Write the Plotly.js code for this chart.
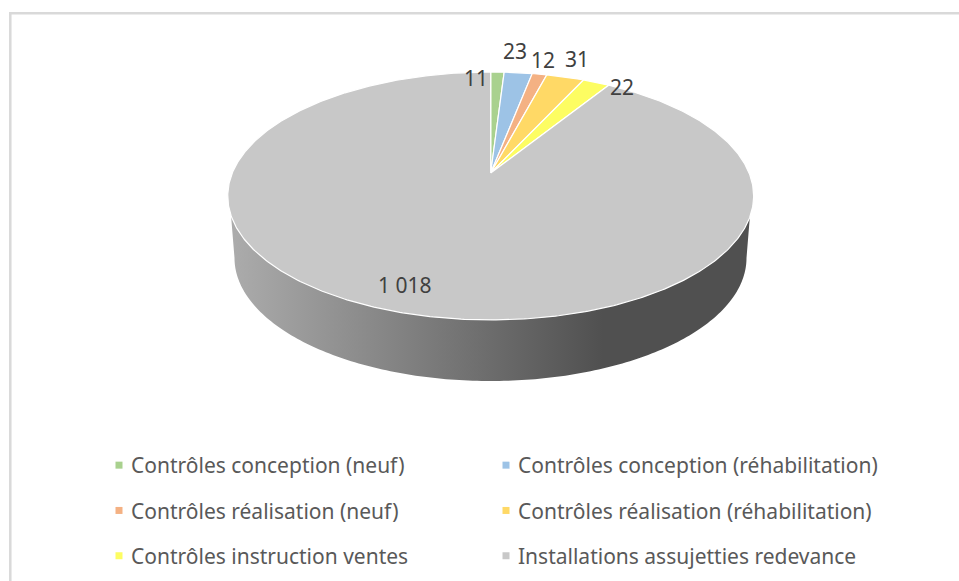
<!DOCTYPE html>
<html lang="fr">
<head>
<meta charset="utf-8">
<title>Répartition des contrôles et installations</title>
<script src="https://cdn.plot.ly/plotly-3.0.1.min.js"></script>
<style>html,body{margin:0;padding:0;background:#fff}#chart{width:959px;height:581px}</style>
</head>
<body>
<div id="chart"></div>
<script>
// --- data ---
const categories = [
  "Contrôles conception (neuf)",
  "Contrôles conception (réhabilitation)",
  "Contrôles réalisation (neuf)",
  "Contrôles réalisation (réhabilitation)",
  "Contrôles instruction ventes",
  "Installations assujetties redevance"
];
const values = [11, 23, 12, 31, 22, 1018];
const valueLabels = ["11", "23", "12", "31", "22", "1 018"];
const colors = ["#A9D18E", "#9DC3E6", "#F4B183", "#FFD966", "#FDFD62", "#C8C8C8"];

// --- geometry of the tilted, perspective disc (in axis units = screen pixels) ---
const apexX = 490.7, apexY = 173;
const depthK = 0.1855, scaleU = 258.4, scaleV = 119.7;
const wallDrop = {cy: 258, rx: 256, ry: 123, cx: 490.5, topY: 215, leftX: 231, rightX: 750};
const labelAt = [[476, 78], [515, 51], [543, 60], [577, 59], [622, 87], [405, 285]];

function project(angle) {            // angle clockwise from 12 o'clock
  const u = Math.sin(angle), v = Math.cos(angle), d = 1 + depthK * v;
  return [apexX + scaleU * u / d, apexY - scaleV * v / d];
}
const total = values.reduce((a, b) => a + b, 0);
let cum = 0;
const wedgeTraces = values.map((val, i) => {
  const a0 = cum / total * 2 * Math.PI;
  cum += val;
  const a1 = cum / total * 2 * Math.PI;
  const n = Math.max(4, Math.ceil((a1 - a0) / 0.01));
  const xs = [apexX], ys = [apexY];
  for (let k = 0; k <= n; k++) {
    const p = project(a0 + (a1 - a0) * k / n);
    xs.push(p[0]); ys.push(p[1]);
  }
  xs.push(apexX); ys.push(apexY);
  return {
    type: "scatter", mode: "lines", x: xs, y: ys, fill: "toself",
    fillcolor: colors[i], line: {color: "#ffffff", width: 1.2},
    name: categories[i], text: String(val), hoverinfo: "name+text", showlegend: false
  };
});

// side wall of the disc
const wallX = [wallDrop.leftX], wallY = [wallDrop.topY];
for (let k = 0; k <= 180; k++) {
  const t = Math.PI - k * Math.PI / 180;
  wallX.push(wallDrop.cx + wallDrop.rx * Math.cos(t));
  wallY.push(wallDrop.cy + wallDrop.ry * Math.sin(t));
}
wallX.push(wallDrop.rightX, wallDrop.leftX);
wallY.push(wallDrop.topY, wallDrop.topY);
const wallTrace = {
  type: "scatter", mode: "none", x: wallX, y: wallY, fill: "toself",
  fillgradient: {
    type: "horizontal", start: 234, stop: 747,
    colorscale: [[0, "#ababab"], [0.5, "#6c6c6c"], [0.72, "#505050"], [1, "#505050"]]
  },
  hoverinfo: "skip", showlegend: false
};

// legend entries: small squares, two columns of three rows
const legendTraces = categories.map((name, i) => ({
  type: "scatter", mode: "markers", x: [null], y: [null], name: name,
  marker: {symbol: "square", size: 7, color: colors[i]},
  legend: i % 2 === 0 ? "legend" : "legend2",
  legendgroup: "g" + i, hoverinfo: "skip"
}));

const legendStyle = {
  orientation: "v", xanchor: "left", yanchor: "top", tracegroupgap: 15,
  bgcolor: "rgba(0,0,0,0)", borderwidth: 0, itemclick: false, itemdoubleclick: false,
  font: {family: '"Noto Sans", sans-serif', size: 21, color: "#595959"}
};

const layout = {
  width: 959, height: 581, margin: {l: 0, r: 0, t: 0, b: 0},
  paper_bgcolor: "#ffffff", plot_bgcolor: "#ffffff", showlegend: true,
  xaxis: {range: [0, 959], visible: false, fixedrange: true},
  yaxis: {range: [581, 0], visible: false, fixedrange: true},
  legend: Object.assign({}, legendStyle, {x: 91 / 959, y: 1 - 445 / 581}),
  legend2: Object.assign({}, legendStyle, {x: 478 / 959, y: 1 - 445 / 581}),
  annotations: valueLabels.map((t, i) => ({
    x: labelAt[i][0], y: labelAt[i][1], text: t, showarrow: false,
    xanchor: "center", yanchor: "middle",
    font: {family: '"Noto Sans", sans-serif', size: 21, color: "#404040"}
  })),
  shapes: [
    {type: "line", x0: 9, x1: 959, y0: 13.3, y1: 13.3, line: {color: "#d9d9d9", width: 2.5}},
    {type: "line", x0: 10.3, x1: 10.3, y0: 13, y1: 581, line: {color: "#d9d9d9", width: 2.5}}
  ]
};

Plotly.newPlot("chart", [wallTrace].concat(wedgeTraces, legendTraces), layout,
  {displayModeBar: false, responsive: false}).then(gd => {
    gd.querySelectorAll(".legendsymbols").forEach(g => g.setAttribute("transform", "translate(8,0)"));
  });
</script>
</body>
</html>
